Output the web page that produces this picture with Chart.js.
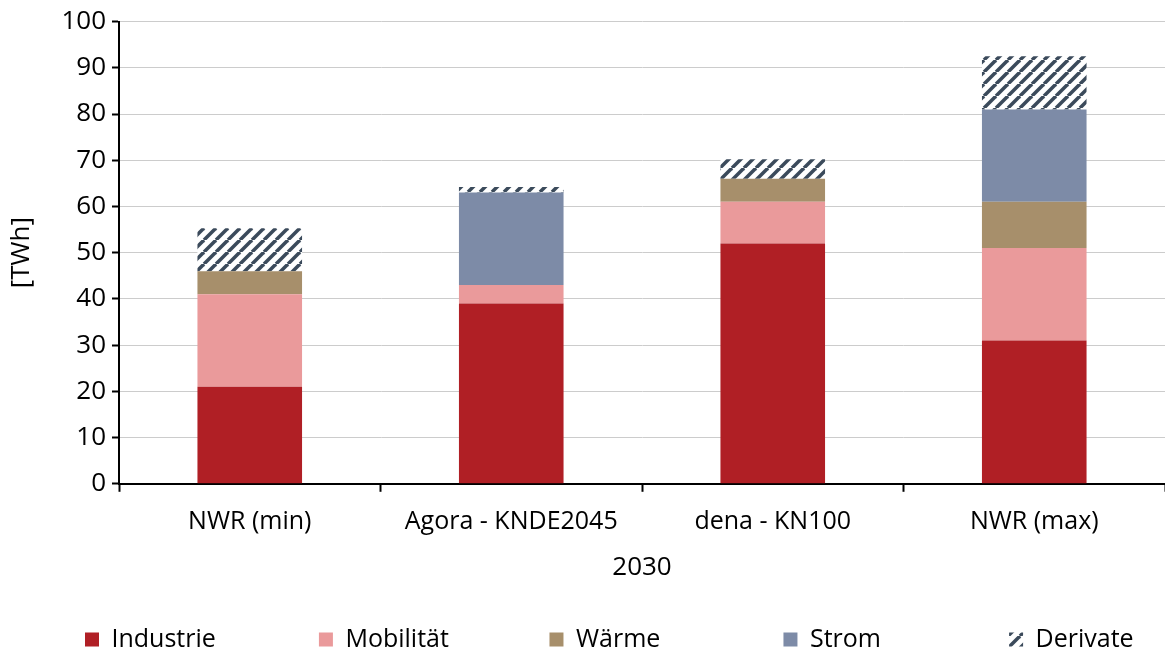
<!DOCTYPE html>
<html>
<head>
<meta charset="utf-8">
<script src="https://cdn.jsdelivr.net/npm/chart.js@4"></script>
<style>
  html, body { margin: 0; padding: 0; background: #fff; }
  #wrap { width: 1165px; height: 653px; }
</style>
</head>
<body>
<div id="wrap"><canvas id="myChart"></canvas></div>
<script>
// categories and series (TWh)
var categories = ['NWR (min)', 'Agora - KNDE2045', 'dena - KN100', 'NWR (max)'];
var industrie = [21, 39, 52, 31];
var mobilitaet = [20, 4, 9, 20];
var waerme = [5, 0, 5, 10];
var strom = [0, 20, 0, 20];
var derivate = [9.3, 1.2, 4.2, 11.5];
var yTicks = [0, 10, 20, 30, 40, 50, 60, 70, 80, 90, 100];

// diagonal hatch for Derivate
function hatch() {
    var s = 12;
    var c = document.createElement('canvas');
    c.width = s; c.height = s;
    var g = c.getContext('2d');
    g.fillStyle = '#ffffff';
    g.fillRect(0, 0, s, s);
    g.strokeStyle = '#3b4a5b';
    g.lineWidth = 3.5;
    for (var k = -1; k <= 1; k++) {
        g.beginPath();
        g.moveTo(k * s, s);
        g.lineTo(k * s + s, 0);
        g.stroke();
    }
    return document.getElementById('myChart').getContext('2d').createPattern(c, 'repeat');
}

var font = "'Open Sans', sans-serif";
Chart.defaults.font.family = font;
Chart.defaults.color = '#000';

var legendSize = 25;
var legendPad = 13;
var slots = [235, 233, 234, 226]; // spacing between legend entries

// move the legend so the first box starts where the reference one does
var legendShift = {
    id: 'legendShift',
    afterLayout: function (chart) {
        var L = chart.legend;
        if (!L || !L.lineWidths) return;
        var x = (L.left + legendPad + L.right - L.lineWidths[0]) / 2;
        var d = 85 - x;
        L.left += d;
        L.right += d;
        L.top += 9;
        L.bottom += 9;
    }
};

var ctx = document.getElementById('myChart').getContext('2d');
var myChart = new Chart(ctx, {
    type: 'bar',
    data: {
        labels: categories,
        datasets: [
            { label: 'Industrie', data: industrie, backgroundColor: '#b01f25' },
            { label: 'Mobilität', data: mobilitaet, backgroundColor: '#ea9a9b' },
            { label: 'Wärme', data: waerme, backgroundColor: '#a78f6b' },
            { label: 'Strom', data: strom, backgroundColor: '#7d8ba7' },
            { label: 'Derivate', data: derivate, backgroundColor: hatch() }
        ]
    },
    plugins: [legendShift],
    options: {
        responsive: true,
        maintainAspectRatio: false,
        animation: false,
        datasets: { bar: { categoryPercentage: 0.8, barPercentage: 0.5, borderWidth: 0 } },
        layout: { padding: { top: 9, right: 0, left: 2, bottom: 0 } },
        plugins: {
            tooltip: { enabled: false },
            legend: {
                position: 'bottom',
                labels: {
                    font: { size: legendSize },
                    boxWidth: 14,
                    boxHeight: 14,
                    padding: legendPad,
                    generateLabels: function (chart) {
                        var items = Chart.defaults.plugins.legend.labels.generateLabels(chart);
                        var c = chart.ctx;
                        c.save();
                        c.font = legendSize + "px 'Open Sans', sans-serif";
                        items.forEach(function (it, i) {
                            it.lineWidth = 0;
                            if (i < slots.length) {
                                var target = slots[i] - 14 - legendSize / 2 - legendPad;
                                var t = it.text;
                                while (c.measureText(t + '\u200a').width < target) t += '\u200a';
                                it.text = t;
                            }
                        });
                        c.restore();
                        return items;
                    }
                }
            }
        },
        scales: {
            x: {
                stacked: true,
                offset: true,
                border: { display: true, color: '#000', width: 2 },
                grid: { display: true, offset: true, drawOnChartArea: false, drawTicks: true, tickLength: 8, tickColor: '#000', tickWidth: 2 },
                ticks: { font: { size: 25 }, padding: 15 },
                title: { display: true, text: '2030', font: { size: 26 }, padding: { top: 0, bottom: 22 } }
            },
            y: {
                stacked: true,
                min: 0,
                max: 100,
                afterBuildTicks: function (scale) {
                    scale.ticks = yTicks.map(function (v) { return { value: v }; });
                },
                border: { display: true, color: '#000', width: 2 },
                grid: { color: '#cccccc', lineWidth: 1, tickColor: '#000', tickLength: 7, tickWidth: 2 },
                ticks: { font: { size: 26 }, padding: 6 },
                title: { display: true, text: '[TWh]', font: { size: 26 }, padding: { bottom: 2 } },
                afterFit: function (scale) { scale.width = 117; }
            }
        }
    }
});
</script>
</body>
</html>
